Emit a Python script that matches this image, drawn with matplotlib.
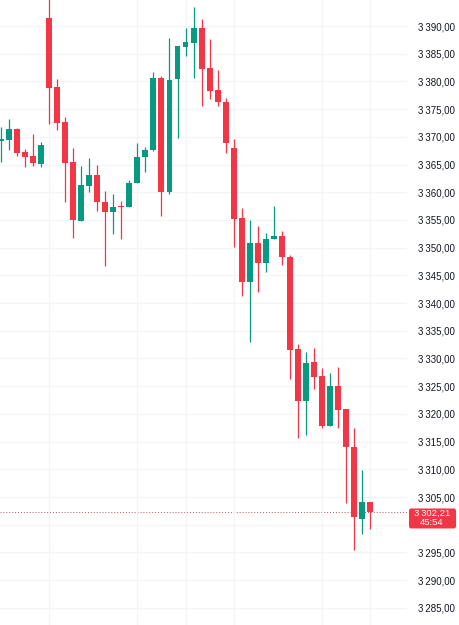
import numpy as np
import matplotlib
matplotlib.use("Agg")
import matplotlib.pyplot as plt
from matplotlib.patches import FancyBboxPatch
from matplotlib.ticker import FuncFormatter

plt.rcParams['font.family'] = ['Liberation Sans', 'DejaVu Sans']

# OHLC (one candle per slot, oldest first)
opens = [3369.25, 3369.43, 3371.42, 3367.27, 3366.55, 3365.10, 3391.44, 3379.00, 3372.68, 3365.46,
         3354.82, 3361.14, 3363.12, 3358.25, 3356.45, 3357.45, 3357.35, 3361.68, 3366.37, 3367.63,
         3380.62, 3360.05, 3380.44, 3386.21, 3386.93, 3389.64, 3382.42, 3378.45, 3376.29, 3367.99,
         3355.36, 3343.82, 3350.85, 3347.25, 3351.57, 3352.11, 3348.33, 3331.73, 3322.35, 3329.38,
         3326.86, 3317.84, 3325.06, 3320.91, 3314.05, 3301.06, 3304.13]
highs = [3371.78, 3373.22, 3371.60, 3367.81, 3370.52, 3369.07, 3395.50, 3380.44, 3373.58, 3368.00,
         3364.74, 3366.19, 3364.92, 3360.23, 3359.69, 3358.43, 3362.22, 3368.89, 3368.17, 3381.70,
         3380.98, 3387.83, 3386.39, 3389.64, 3393.43, 3391.26, 3387.65, 3382.06, 3377.01, 3369.61,
         3357.17, 3355.00, 3353.92, 3352.66, 3357.53, 3353.02, 3348.69, 3332.63, 3331.19, 3331.91,
         3328.30, 3327.40, 3328.48, 3320.91, 3317.48, 3309.90, 3304.13]
lows = [3365.46, 3367.63, 3366.55, 3364.56, 3364.74, 3364.56, 3372.32, 3371.24, 3358.25, 3351.76,
        3354.82, 3360.05, 3356.63, 3346.70, 3352.48, 3351.57, 3357.35, 3361.68, 3363.66, 3367.45,
        3355.72, 3359.69, 3369.79, 3384.59, 3380.62, 3375.57, 3376.83, 3375.57, 3367.09, 3350.13,
        3341.29, 3333.01, 3342.01, 3345.62, 3351.57, 3346.89, 3326.32, 3315.67, 3316.22, 3324.51,
        3317.48, 3317.84, 3317.48, 3303.95, 3295.47, 3298.36, 3299.26]
closes = [3369.61, 3371.42, 3367.09, 3366.37, 3365.28, 3368.53, 3378.82, 3372.50, 3365.28, 3355.00,
          3361.32, 3363.12, 3358.25, 3356.45, 3357.35, 3357.35, 3361.68, 3366.37, 3367.63, 3380.62,
          3360.05, 3380.26, 3386.39, 3387.11, 3389.64, 3382.24, 3378.27, 3376.29, 3368.89, 3355.18,
          3343.82, 3350.85, 3347.25, 3351.57, 3352.11, 3348.33, 3331.55, 3322.35, 3329.20, 3326.68,
          3317.84, 3325.06, 3320.73, 3314.05, 3301.42, 3304.13, 3302.21]

price_ticks = np.arange(3285, 3395, 5)
time_grid = [6, 17, 23, 29, 40, 46]
last_price = "3\u2009302,21"
countdown = "45:54"

up = '#089981'
down = '#f23645'

o = np.array(opens)
h = np.array(highs)
l = np.array(lows)
c = np.array(closes)
x = np.arange(len(o))
cols = [up if cc >= oo else down for oo, cc in zip(o, c)]

fig = plt.figure(figsize=(4.6, 6.25), dpi=100)
ax = fig.add_axes([0, 0, 407 / 460, 1])

ax.vlines(x, l, h, colors=cols, linewidth=0.9, zorder=2)
body = np.maximum(np.abs(c - o), 0.25)
ax.bar(x, body, bottom=np.minimum(o, c), width=0.74, color=cols, linewidth=0, zorder=3)

ax.set_xlim(-0.12, 50.6)
ax.set_ylim(3281.9, 3394.7)

ax.set_yticks(price_ticks)
ax.set_xticks(time_grid)
ax.grid(True, color='#f2f4f8', linewidth=0.9, zorder=0)
for s in ax.spines.values():
    s.set_visible(False)
ax.tick_params(axis='x', length=0, labelbottom=False)
ax.yaxis.tick_right()
ax.tick_params(axis='y', length=0, pad=8, labelsize=7, labelcolor='#131722')


def fmt(v, pos):
    if abs(v - 3300) < 0.01:
        return ''
    s = f"{v:,.2f}"
    return s.replace(',', '\u2009').replace('.', ',')


ax.yaxis.set_major_formatter(FuncFormatter(fmt))

last = c[-1]
ax.axhline(last, color='#b2555c', linewidth=0.7, linestyle=(0, (1, 2)), zorder=1)

# price box on the scale
px_per_unit = 625 / (3394.7 - 3281.9)
y_top = (last - 3281.9) * px_per_unit + 4
box = FancyBboxPatch((409 / 460, (y_top - 20) / 625), 47 / 460, 20 / 625,
                     boxstyle='round,pad=0,rounding_size=0.004', transform=fig.transFigure,
                     facecolor=down, edgecolor='none', clip_on=False, zorder=5)
fig.patches.append(box)
fig.text(432.5 / 460, (y_top - 5) / 625, last_price, color='white', fontsize=6.8,
         ha='center', va='center', zorder=6)
fig.text(420 / 460, (y_top - 14.5) / 625, countdown, color='white', fontsize=6.8,
         ha='left', va='center', zorder=6)

fig.savefig('out.png', dpi=100, facecolor='white')
